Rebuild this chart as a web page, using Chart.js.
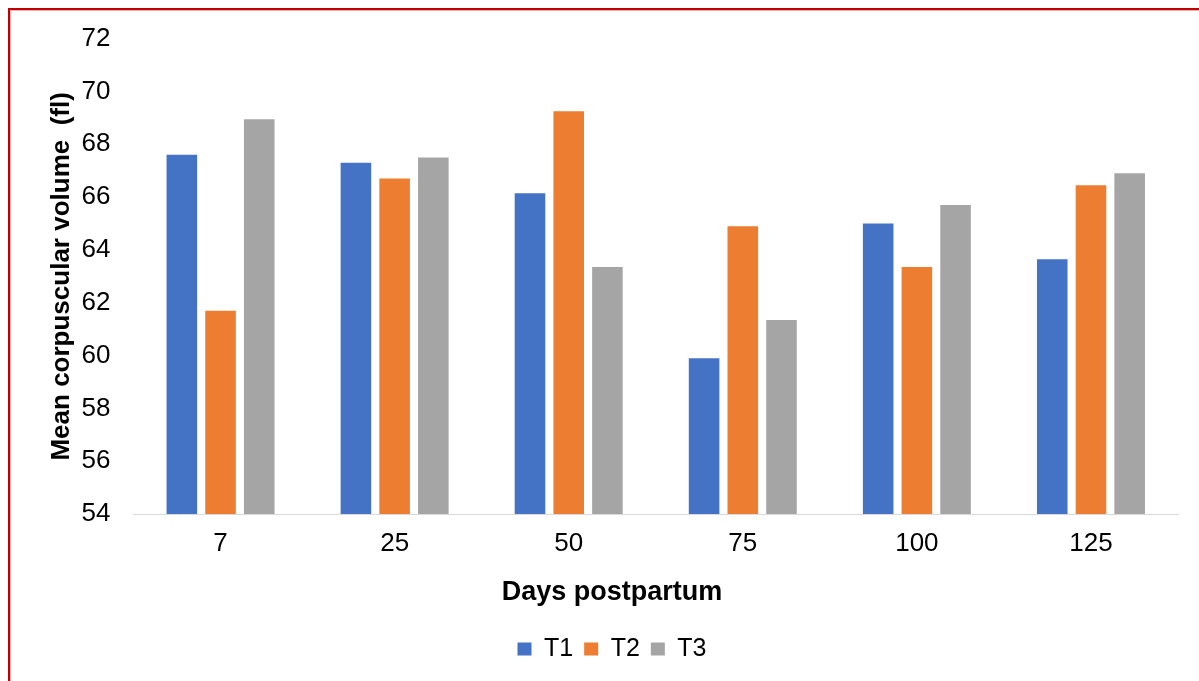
<!DOCTYPE html>
<html>
<head>
<meta charset="utf-8">
<script src="https://cdn.jsdelivr.net/npm/chart.js@4/dist/chart.umd.min.js"></script>
<style>
  html, body { margin: 0; padding: 0; background: #fff; overflow: hidden; }
  #wrap { position: relative; width: 1199px; height: 681px; }
  #frame { position: absolute; left: 8px; top: 8px; width: 1400px; height: 900px;
           border-top: 2px solid #c00000; border-left: 2px solid #c00000;
           box-shadow: inset 1px 1px 0 #eab0b0; pointer-events: none; }
  canvas { position: absolute; left: 0; top: 0; }
</style>
</head>
<body>
<div id="wrap">
  <canvas id="c" width="1199" height="681"></canvas>
  <div id="frame"></div>
</div>
<script>
const categories = ['7', '25', '50', '75', '100', '125'];
const seriesNames = ['T1', 'T2', 'T3'];
const t1 = [67.6, 67.3, 66.15, 59.9, 65.0, 63.65];
const t2 = [61.7, 66.7, 69.25, 64.9, 63.35, 66.45];
const t3 = [68.95, 67.5, 63.35, 61.35, 65.7, 66.9];
const colors = ['#4472C4', '#ED7D31', '#A5A5A5'];
const yMin = 54, yMax = 72, yStep = 2;
const xTitle = 'Days postpartum';
const yTitle = 'Mean corpuscular volume  (fl)';

const FONT = "'Liberation Sans', Arial, sans-serif";

new Chart(document.getElementById('c'), {
  type: 'bar',
  data: {
    labels: categories,
    datasets: [t1, t2, t3].map((d, i) => ({
      label: seriesNames[i],
      data: d,
      backgroundColor: colors[i],
      borderWidth: 0,
      categoryPercentage: 0.667,
      barPercentage: 0.79
    }))
  },
  options: {
    responsive: false,
    devicePixelRatio: 1,
    animation: false,
    layout: { padding: { left: 46, right: 21, top: 35, bottom: 9.5 } },
    plugins: {
      tooltip: { enabled: false },
      title: {
        display: true,
        position: 'bottom',
        weight: 500,
        text: xTitle,
        color: '#000',
        font: { family: FONT, size: 27, weight: 'bold', lineHeight: 1.2 },
        padding: { top: 0, bottom: 17 }
      },
      legend: {
        position: 'bottom',
        labels: {
          boxWidth: 14, boxHeight: 13, padding: 11,
          color: '#000',
          font: { family: FONT, size: 25 }
        }
      }
    },
    scales: {
      x: {
        grid: { display: false, drawTicks: false },
        border: { display: true, color: '#d9d9d9', width: 1 },
        ticks: { color: '#000', padding: 14, font: { family: FONT, size: 26 } },
        afterFit: (s) => { s.height = 62; }
      },
      y: {
        min: yMin, max: yMax,
        grid: { display: false, drawTicks: false },
        border: { display: false },
        ticks: { stepSize: yStep, color: '#000', padding: 23, font: { family: FONT, size: 26 } },
        title: {
          display: true, text: yTitle, color: '#000',
          font: { family: FONT, size: 26, weight: 'bold' },
          padding: { top: 0, bottom: 0 }
        },
        afterFit: (s) => { s.width = 87.5; }
      }
    }
  }
});
</script>
</body>
</html>
